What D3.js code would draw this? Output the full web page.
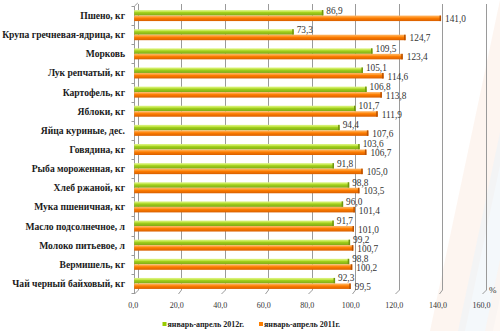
<!DOCTYPE html>
<html><head><meta charset="utf-8">
<script src="https://cdn.jsdelivr.net/npm/d3@7"></script>
<style>body{margin:0;background:#fff}svg{display:block}</style>
</head><body>
<svg id="c" width="500" height="331"></svg>
<script>
const categories = ["Пшено, кг","Крупа гречневая-ядрица, кг","Морковь","Лук репчатый, кг","Картофель, кг","Яблоки, кг","Яйца куриные, дес.","Говядина, кг","Рыба мороженная, кг","Хлеб ржаной, кг","Мука пшеничная, кг","Масло подсолнечное, л","Молоко питьевое, л","Вермишель, кг","Чай черный байховый, кг"];
const values2012 = [86.9,73.3,109.5,105.1,106.8,101.7,94.4,103.6,91.8,98.8,96.0,91.7,99.2,98.8,92.3];
const values2011 = [141.0,124.7,123.4,114.6,113.8,111.9,107.6,106.7,105.0,103.5,101.4,101.0,100.7,100.2,99.5];
const seriesNames = ["январь-апрель 2012г.","январь-апрель 2011г."];
const xTicks = [0,20,40,60,80,100,120,140,160];

const svg = d3.select("#c");
const fmt = v => d3.format(".1f")(v).replace(".", ",");

// faint decorative background stripes
const bg = svg.append("g");
[[430,"#fcefe6"],[458,"#edf3f9"],[485,"#fdf4ec"]].forEach(([x0,c])=>{
  bg.append("path").attr("d",`M${x0},331 L${x0+35},331 L${x0+105},0 L${x0+70},0 Z`).attr("fill",c).attr("opacity",0.6);
});

const x = d3.scaleLinear().domain([0,160]).range([134.2,482.4]);
const y = d3.scaleBand().domain(categories).range([6,293]).paddingInner(0.425).paddingOuter(0.2125);
const ys = d3.scaleBand().domain(["a","b"]).range([0,y.bandwidth()]);
const dx = 3.3, yTop = 4, yBack = 290, yFront = 294;

// gridlines (back wall) with floor diagonals
const grid = svg.append("g").attr("stroke","#9a9a9a").attr("stroke-width",1).attr("fill","none");
xTicks.forEach(t=>{
  const xb = Math.round(x(t)+dx)+0.5, xf = Math.round(x(t))+0.5;
  grid.append("path").attr("d",`M${xb},${yTop} L${xb},${yBack} L${xf},${yFront}`);
});
// y axis line with ticks
const ax = svg.append("g").attr("stroke","#9a9a9a").attr("fill","none");
const x0 = Math.round(x(0))+0.5;
ax.append("path").attr("d",`M${x0+dx},${yTop-1} L${x0},${yTop+2} L${x0},${yFront}`);
const bounds = categories.map(c=>y(c)-y.step()*y.paddingInner()/2);
bounds.push(293);
bounds.forEach(b=>ax.append("line").attr("x1",x0-3).attr("x2",x0).attr("y1",Math.round(b)+0.5).attr("y2",Math.round(b)+0.5));

// tick labels
svg.append("g").selectAll("text").data(xTicks).join("text")
  .attr("x",d=>x(d)-1).attr("y",308).attr("text-anchor","middle")
  .attr("font-family","Liberation Serif, serif").attr("font-size",8).attr("fill","#333")
  .text(d=>fmt(d));
svg.append("text").attr("x",489).attr("y",293).attr("font-family","Liberation Serif, serif")
  .attr("font-size",9).attr("fill","#333").text("%");

// category labels
svg.append("g").selectAll("text").data(categories).join("text")
  .attr("x",125).attr("y",d=>y(d)+y.bandwidth()/2+3.5)
  .attr("text-anchor","end").attr("font-family","Liberation Serif, serif")
  .attr("font-weight","bold").attr("font-size",9.6).attr("fill","#1a1a1a").text(d=>d);

// gradients
const defs = svg.append("defs");
function grad(id, stops){
  const g = defs.append("linearGradient").attr("id",id).attr("x1",0).attr("y1",0).attr("x2",0).attr("y2",1);
  stops.forEach(([o,c])=>g.append("stop").attr("offset",o).attr("stop-color",c));
}
grad("gG",[[0,"#e0f58a"],[0.3,"#c3e64a"],[0.45,"#a2d11c"],[1,"#7ea814"]]);
grad("gO",[[0,"#ffb566"],[0.3,"#ff9a2e"],[0.45,"#ff7d00"],[1,"#d85f00"]]);

const series = [
  {key:"a", vals:values2012, fill:"url(#gG)", cap:"#6f9410"},
  {key:"b", vals:values2011, fill:"url(#gO)", cap:"#b85000"}
];
const bars = svg.append("g");
series.forEach(s=>{
  categories.forEach((c,i)=>{
    const y0 = y(c)+ys(s.key), h = ys.bandwidth();
    bars.append("rect").attr("x",x(0)).attr("y",y0).attr("width",x(s.vals[i])-x(0)).attr("height",h).attr("fill",s.fill);
    bars.append("rect").attr("x",x(s.vals[i])-1.5).attr("y",y0).attr("width",1.5).attr("height",h).attr("fill",s.cap);
  });
});

// value labels
const lab = svg.append("g").attr("font-family","Liberation Serif, serif").attr("font-size",9.3).attr("fill","#333");
categories.forEach((c,i)=>{
  const yg = y(c)+ys("a")+ys.bandwidth()/2, yo = y(c)+ys("b")+ys.bandwidth()/2;
  lab.append("text").attr("x",x(values2012[i])+3).attr("y",yg-2.5+3.2).text(fmt(values2012[i]));
  lab.append("text").attr("x",x(values2011[i])+4).attr("y",yo+0.7+3.2).text(fmt(values2011[i]));
});

// legend
const lg = svg.append("g").attr("font-family","Liberation Serif, serif").attr("font-weight","bold").attr("font-size",8).attr("fill","#222");
[[162.5,"#99cc00"],[259,"#ff7f00"]].forEach(([lx,col],k)=>{
  lg.append("rect").attr("x",lx).attr("y",322).attr("width",4).attr("height",4).attr("fill",col);
  lg.append("text").attr("x",lx+5).attr("y",327).text(seriesNames[k]);
});
</script>
</body></html>
